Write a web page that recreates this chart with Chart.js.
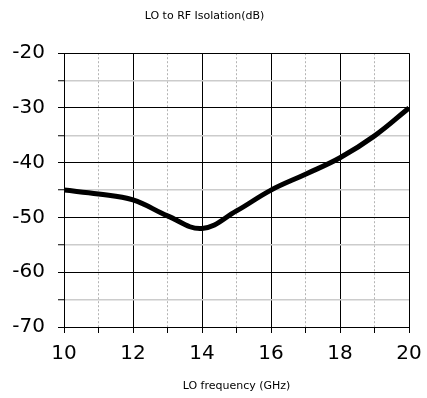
<!DOCTYPE html>
<html>
<head>
<meta charset="utf-8">
<script src="https://cdn.jsdelivr.net/npm/chart.js@4/dist/chart.umd.min.js"></script>
<style>
  html, body { margin: 0; padding: 0; background: #fff; }
  #wrap { width: 427px; height: 398px; }
</style>
</head>
<body>
<div id="wrap"><canvas id="c" width="427" height="398"></canvas></div>
<script>
// LO frequency sweep (GHz) and measured LO-to-RF isolation (dB)
const frequencyGHz = [10, 11, 12, 13, 14, 15, 16, 17, 18, 19, 20];
const isolationDb = [-45, -45.7, -46.8, -49.7, -52, -48.8, -45, -42.1, -39.1, -35.1, -30];

// Labelled tick values on each axis
const xTickLabels = [10, 12, 14, 16, 18, 20];
const yTickLabels = [-20, -30, -40, -50, -60, -70];

const FONT = "'DejaVu Sans', Verdana, sans-serif";

const points = frequencyGHz.map((f, i) => ({ x: f, y: isolationDb[i] }));

new Chart(document.getElementById('c'), {
  type: 'line',
  data: {
    datasets: [{
      data: points,
      borderColor: '#000',
      borderWidth: 5,
      pointRadius: 0,
      tension: 0.4,
      fill: false
    }]
  },
  options: {
    responsive: false,
    animation: false,
    layout: { padding: { left: 0, right: 18, top: 0, bottom: 0 } },
    plugins: {
      legend: { display: false },
      tooltip: { enabled: false },
      title: {
        display: true,
        text: 'LO to RF Isolation(dB)',
        color: '#000',
        font: { family: FONT, size: 11, weight: 'normal' },
        padding: { top: 10, bottom: 30 }
      }
    },
    scales: {
      x: {
        type: 'linear',
        min: 10,
        max: 20,
        ticks: {
          stepSize: 1,
          color: '#000',
          padding: 9,
          maxRotation: 0,
          autoSkip: false,
          font: { family: FONT, size: 20 },
          callback: v => xTickLabels.includes(v) ? String(v) : ''
        },
        grid: {
          color: ctx => (ctx.tick && ctx.tick.value % 2 !== 0) ? '#b4b4b4' : '#000',
          lineWidth: 1,
          tickLength: 6,
          tickColor: '#000',
          tickWidth: 1
        },
        border: {
          color: '#000',
          width: 1,
          dash: ctx => (ctx.tick && ctx.tick.value % 2 !== 0) ? [2, 2] : []
        },
        title: {
          display: true,
          text: 'LO frequency (GHz)',
          color: '#000',
          font: { family: FONT, size: 11, weight: 'normal' },
          padding: { top: 6, bottom: 5 }
        },
        afterFit: scale => {
          scale.height = 71;
          scale.paddingLeft = 0;
          scale.paddingRight = 0;
        }
      },
      y: {
        type: 'linear',
        min: -70,
        max: -20,
        ticks: {
          stepSize: 5,
          color: '#000',
          padding: 13,
          autoSkip: false,
          font: { family: FONT, size: 20 },
          callback: v => yTickLabels.includes(v) ? String(v) : ''
        },
        grid: {
          color: ctx => (ctx.tick && ctx.tick.value % 10 !== 0) ? '#cccccc' : '#000',
          lineWidth: ctx => (ctx.tick && ctx.tick.value % 10 !== 0) ? 1.5 : 1,
          tickLength: 6,
          tickColor: '#000',
          tickWidth: 1
        },
        border: { color: '#000', width: 1 },
        afterFit: scale => { scale.width = 64; }
      }
    }
  }
});
</script>
</body>
</html>
